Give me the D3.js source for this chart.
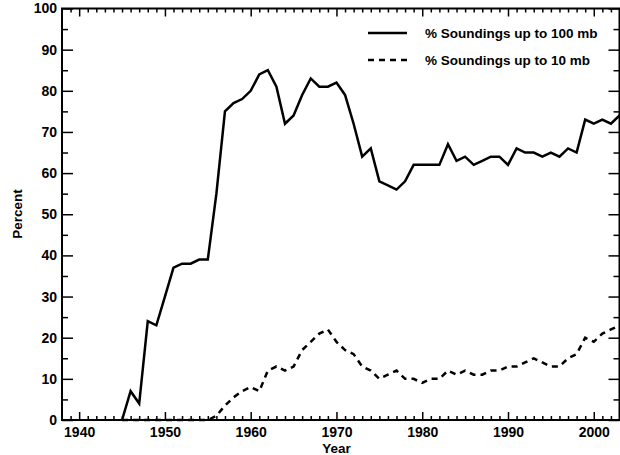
<!DOCTYPE html>
<meta charset="utf-8">
<style>
body { margin: 0; background: #fff; }
svg text { font-family: "Liberation Sans", Arial, sans-serif; font-weight: bold; fill: #000; }
</style>
<svg width="620" height="455"></svg>
<script src="https://d3js.org/d3.v7.min.js"></script>
<script>
// years covered by both series
var years = d3.range(1945, 2004)

// % soundings reaching 100 mb
var upTo100 = [0, 7, 4, 24, 23, 30, 37, 38, 38, 39,
  39, 55, 75, 77, 78, 80, 84, 85, 81, 72,
  74, 79, 83, 81, 81, 82, 79, 72, 64, 66,
  58, 57, 56, 58, 62, 62, 62, 62, 67, 63,
  64, 62, 63, 64, 64, 62, 66, 65, 65, 64,
  65, 64, 66, 65, 73, 72, 73, 72, 74]

// % soundings reaching 10 mb
var upTo10 = [0, 0, 0, 0, 0, 0, 0, 0, 0, 0,
  0, 1, 3.5, 5.5, 7, 8, 7, 12, 13, 12,
  13, 17, 19, 21, 22, 19, 17, 16, 13, 12,
  10, 11, 12, 10, 10, 9, 10, 10, 12, 11,
  12, 11, 11, 12, 12, 13, 13, 14, 15, 14,
  13, 13, 15, 16, 20, 19, 21, 22, 23]

var yearTicks = [1940, 1950, 1960, 1970, 1980, 1990, 2000]
var percentTicks = [0, 10, 20, 30, 40, 50, 60, 70, 80, 90, 100]

var legendLabels = ['% Soundings up to 100 mb', '% Soundings up to 10 mb']

const svg = d3.select('svg')
const plotL = 62, plotR = 619.5, plotT = 8.5, plotB = 420

const x = d3.scaleLinear().domain([1938, 2003]).range([plotL, plotR])
const y = d3.scaleLinear().domain([0, 100]).range([plotB, plotT])

const minorYears = d3.range(1939, 2003).filter(d => d % 10 !== 0)
const minorPct = d3.range(5, 100, 10)

function styleAxis(g) {
  g.select('.domain').remove()
  g.selectAll('line').attr('stroke', '#000').attr('stroke-width', 1.5)
  g.selectAll('text').attr('font-size', 14).attr('font-family', null)
}

// bottom
svg.append('g').attr('transform', `translate(0,${plotB})`)
  .call(d3.axisBottom(x).tickValues(yearTicks).tickSize(-8).tickPadding(7).tickFormat(d3.format('d')))
  .call(styleAxis)
svg.append('g').attr('transform', `translate(0,${plotB})`)
  .call(d3.axisBottom(x).tickValues(minorYears).tickSize(-4).tickFormat(''))
  .call(styleAxis)
// top
svg.append('g').attr('transform', `translate(0,${plotT})`)
  .call(d3.axisTop(x).tickValues(yearTicks).tickSize(-8).tickFormat(''))
  .call(styleAxis)
svg.append('g').attr('transform', `translate(0,${plotT})`)
  .call(d3.axisTop(x).tickValues(minorYears).tickSize(-4).tickFormat(''))
  .call(styleAxis)
// left
svg.append('g').attr('transform', `translate(${plotL},0)`)
  .call(d3.axisLeft(y).tickValues(percentTicks).tickSize(-11).tickPadding(5))
  .call(styleAxis)
svg.append('g').attr('transform', `translate(${plotL},0)`)
  .call(d3.axisLeft(y).tickValues(minorPct).tickSize(-6).tickFormat(''))
  .call(styleAxis)
// right
svg.append('g').attr('transform', `translate(${plotR},0)`)
  .call(d3.axisRight(y).tickValues(percentTicks).tickSize(-11).tickFormat(''))
  .call(styleAxis)
svg.append('g').attr('transform', `translate(${plotR},0)`)
  .call(d3.axisRight(y).tickValues(minorPct).tickSize(-6).tickFormat(''))
  .call(styleAxis)

// frame
svg.append('rect')
  .attr('x', plotL).attr('y', plotT)
  .attr('width', plotR - plotL).attr('height', plotB - plotT)
  .attr('fill', 'none').attr('stroke', '#000').attr('stroke-width', 2)

const line = d3.line().x((d, i) => x(years[i])).y(d => y(d))

svg.append('path').datum(upTo10)
  .attr('d', line)
  .attr('fill', 'none').attr('stroke', '#000').attr('stroke-width', 2.5)
  .attr('stroke-dasharray', '6,5')

svg.append('path').datum(upTo100)
  .attr('d', line)
  .attr('fill', 'none').attr('stroke', '#000').attr('stroke-width', 2.5)
  .attr('stroke-linejoin', 'miter')

// legend
const legend = svg.append('g')
legendLabels.forEach(function (label, i) {
  const ly = 33 + i * 27
  legend.append('line')
    .attr('x1', 368).attr('x2', 407).attr('y1', ly).attr('y2', ly)
    .attr('stroke', '#000').attr('stroke-width', 2.5)
    .attr('stroke-dasharray', i === 1 ? '6,5' : null)
  legend.append('text')
    .attr('x', 425).attr('y', ly).attr('dy', '0.35em')
    .attr('font-size', 13.5)
    .text(label)
})

// axis titles
svg.append('text')
  .attr('x', x(1970)).attr('y', 453)
  .attr('text-anchor', 'middle').attr('font-size', 13.5)
  .text('Year')

svg.append('text')
  .attr('transform', 'translate(22,214) rotate(-90)')
  .attr('text-anchor', 'middle').attr('font-size', 13.5)
  .text('Percent')
</script>
